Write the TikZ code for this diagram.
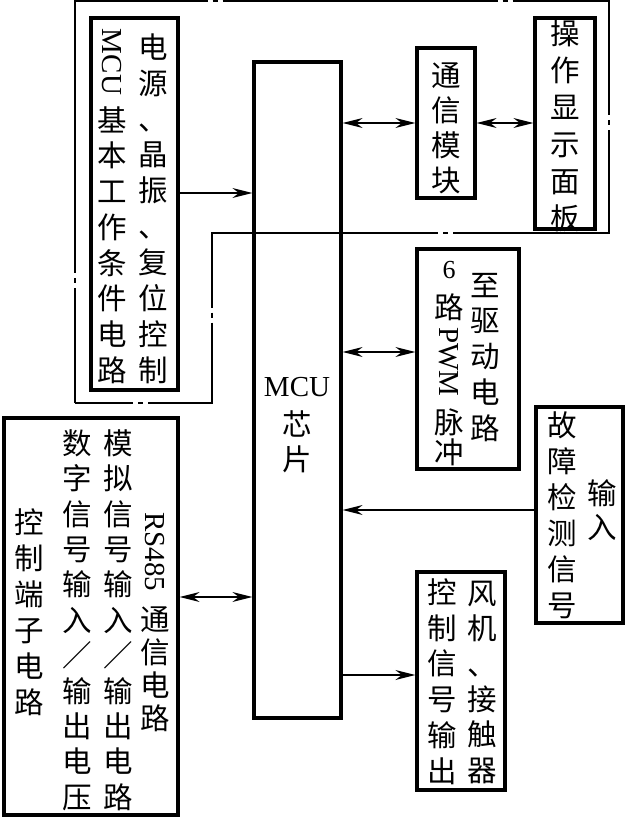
\documentclass[tikz,border=0pt]{standalone}
\usepackage{fontspec}
\setmainfont{Liberation Serif}
\newfontfamily\cjk{Noto Sans CJK SC}
\usetikzlibrary{arrows.meta}
\tikzset{
  box/.style={draw, line width=3.2pt, inner sep=0pt},
  cj/.style={font=\cjk\fontsize{29.5}{29.5}\selectfont, inner sep=0pt, text height=26pt, text depth=3.5pt},
  lat/.style={font=\fontsize{29}{29}\selectfont, inner sep=0pt},
  conn/.style={line width=1.3pt},
  outline/.style={line width=1.2pt, dash pattern=on 115.5pt off 5pt on 5pt off 5pt on 404pt off 5pt on 5pt off 5pt on 275pt off 5pt on 5pt off 5pt on 211pt off 5pt on 5pt off 5pt on 259pt off 5pt on 5pt off 5pt on 300pt off 5pt on 5pt off 5pt on 145pt off 5pt on 5pt off 5pt on 100pt off 100pt},
  >={Stealth[length=20pt,width=10pt,inset=6.5pt]}
}
\newcommand\cjcol[5]{\foreach \ch [count=\k from 0] in {#5}{\node[cj] (#1\k) at (#2,{#3+\k*#4}) {\ch};}}
\begin{document}
\begin{tikzpicture}[x=1pt,y=-1pt]
\useasboundingbox (0,0) rectangle (625,818);
% outer dash-dot boundary
\coordinate (o1) at (75,403);
\coordinate (o2) at (75,1);
\coordinate (o3) at (609,1);
\coordinate (o4) at (609,233);
\coordinate (o5) at (212,233);
\coordinate (o6) at (212,403);
\draw[outline] (o1) -- (o2) -- (o3) -- (o4) -- (o5) -- (o6) -- cycle;
% boxes
\node[box, minimum width=87pt, minimum height=372pt] (A) at (134.5,204) {};
\node[box, minimum width=87pt, minimum height=656pt] (mcu) at (297.5,390) {};
\node[box, minimum width=58pt, minimum height=150pt] (tx) at (446,123) {};
\node[box, minimum width=60pt, minimum height=211pt] (op) at (565,123.5) {};
\node[box, minimum width=102pt, minimum height=220pt] (drv) at (468,359) {};
\node[box, minimum width=87pt, minimum height=216pt] (flt) at (579.5,515) {};
\node[box, minimum width=88pt, minimum height=218pt] (fan) at (461,681) {};
\node[box, minimum width=174pt, minimum height=397pt] (ctl) at (91,616.5) {};
% texts
\cjcol{ar}{153}{47}{35.9}{电,源,、,晶,振,、,复,位,控,制}
\node[lat, rotate=-90] (amcu) at (112,62) {MCU};
\cjcol{alc}{112}{120}{35.7}{基,本,工,作,条,件,电,路}
\node[lat] (mcut) at (297,387) {MCU};
\node[cj] (mcux) at (297,424) {芯};
\node[cj] (mcuy) at (297,459) {片};
\cjcol{txc}{446}{75}{35}{通,信,模,块}
\cjcol{opc}{565}{33}{37}{操,作,显,示,面,板}
\cjcol{drr}{485}{285}{35.7}{至,驱,动,电,路}
\node[lat, font=\fontsize{26}{26}\selectfont] (d6) at (449,270) {6};
\node[cj] (dla) at (449,307) {路};
\node[lat, rotate=-90] (dpwm) at (449,362) {PWM};
\node[cj] (dlb) at (449,422) {脉};
\node[cj] (dlc) at (449,452) {冲};
\cjcol{fl}{562}{425}{36}{故,障,检,测,信,号}
\cjcol{fr}{602}{493}{34}{输,入}
\cjcol{fnr}{482}{593}{35.4}{风,机,、,接,触,器}
\cjcol{fnl}{442}{592}{35.8}{控,制,信,号,输,出}
\node[lat, rotate=-90] (crs) at (155,552) {RS485};
\cjcol{crc}{155}{619}{33}{通,信,电,路}
\cjcol{cm}{118}{443}{35.4}{模,拟,信,号,输,入,／,输,出,电,路}
\cjcol{cd}{77}{443}{35.4}{数,字,信,号,输,入,／,输,出,电,压}
\cjcol{ck}{29}{522}{36}{控,制,端,子,电,路}
% connectors
\coordinate (ya) at (0,193);
\coordinate (yb) at (0,123);
\coordinate (yc) at (0,352);
\coordinate (yd) at (0,510);
\coordinate (ye) at (0,597);
\coordinate (yf) at (0,675);
\draw[conn,->] (A.east|-ya) -- (mcu.west|-ya);
\draw[conn,<->] (mcu.east|-yb) -- (tx.west|-yb);
\draw[conn,<->] (tx.east|-yb) -- (op.west|-yb);
\draw[conn,<->] (mcu.east|-yc) -- (drv.west|-yc);
\draw[conn,->] (flt.west|-yd) -- (mcu.east|-yd);
\draw[conn,<->] (ctl.east|-ye) -- (mcu.west|-ye);
\draw[conn,->] (mcu.east|-yf) -- (fan.west|-yf);
\end{tikzpicture}
\end{document}
